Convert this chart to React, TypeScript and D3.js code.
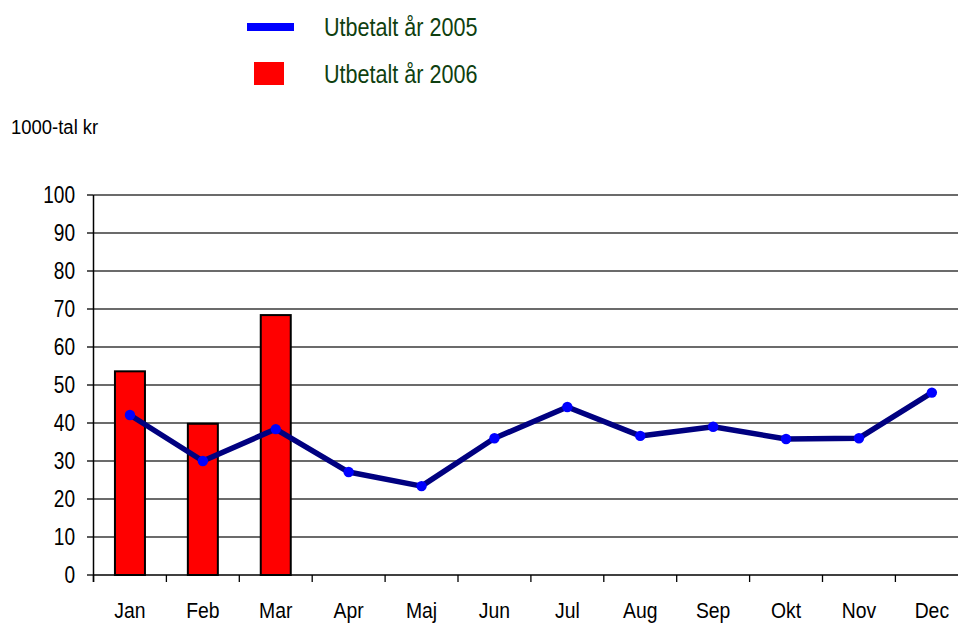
import React from "react";
import * as d3 from "d3";

const months = ["Jan", "Feb", "Mar", "Apr", "Maj", "Jun", "Jul", "Aug", "Sep", "Okt", "Nov", "Dec"];
const paid2005 = [42.1, 30.0, 38.4, 27.1, 23.4, 36.0, 44.2, 36.6, 39.0, 35.8, 36.0, 48.0];
const paid2006 = [53.6, 39.8, 68.4];
const yTicks = [0, 10, 20, 30, 40, 50, 60, 70, 80, 90, 100];
const seriesNames = ["Utbetalt år 2005", "Utbetalt år 2006"];
const yAxisTitle = "1000-tal kr";

const W = 958;
const H = 624;
const FONT = "'Liberation Sans', Arial, sans-serif";

function NText({ x, y, sx, anchor = "start", size, fill = "#000", children }: any) {
  return (
    <text
      transform={`translate(${x},${y}) scale(${sx},1)`}
      dy="0.35em"
      textAnchor={anchor}
      fontSize={size}
      fill={fill}
    >
      {children}
    </text>
  );
}

export default function App() {
  const left = 93.5;
  const bandW = 72.9;
  const x = d3.scaleBand<string>().domain(months).range([left, left + bandW * months.length]).paddingInner(0).paddingOuter(0);
  const y = d3.scaleLinear().domain([0, 100]).range([575, 195]);
  const barW = 30;
  const cx = (m: string) => (x(m) as number) + x.bandwidth() / 2;

  const line = d3
    .line<number>()
    .x((_, i) => cx(months[i]))
    .y((d) => y(d));

  return (
    <div style={{ position: "absolute", left: 0, top: 0 }}>
      <svg width={W} height={H} style={{ display: "block" }} fontFamily={FONT}>
        <rect width={W} height={H} fill="#fff" />
        {/* legend */}
        <line x1={247} x2={294} y1={27} y2={27} stroke="#0000ff" strokeWidth={8} />
        <NText x={324} y={27} sx={0.83} size={26} fill="#0f3f10">{seriesNames[0]}</NText>
        <rect x={254} y={62} width={30} height={23} fill="#ff0000" />
        <NText x={324} y={74} sx={0.83} size={26} fill="#0f3f10">{seriesNames[1]}</NText>

        <NText x={11} y={127} sx={0.88} size={21}>{yAxisTitle}</NText>

        {/* grid */}
        {yTicks.map((t) => (
          <g key={t}>
            {t > 0 && <line x1={left} x2={W} y1={y(t)} y2={y(t)} stroke="#3a3a3a" strokeWidth={1.3} />}
            <line x1={87} x2={left} y1={y(t)} y2={y(t)} stroke="#000" strokeWidth={1.3} />
            <NText x={75} y={y(t)} sx={0.83} anchor="end" size={23}>{t}</NText>
          </g>
        ))}

        {/* bars */}
        {paid2006.map((v, i) => (
          <rect
            key={i}
            x={cx(months[i]) - barW / 2}
            y={y(v)}
            width={barW}
            height={y(0) - y(v)}
            fill="#ff0000"
            stroke="#000"
            strokeWidth={2}
          />
        ))}

        {/* axes */}
        <line x1={left} x2={left} y1={y(100)} y2={y(0) + 7} stroke="#000" strokeWidth={1.5} />
        <line x1={left} x2={W} y1={y(0)} y2={y(0)} stroke="#000" strokeWidth={1.5} />
        {months.map((m) => (
          <line key={m} x1={x(m)} x2={x(m)} y1={y(0)} y2={y(0) + 7} stroke="#000" strokeWidth={1.3} />
        ))}
        {months.map((m) => (
          <NText key={m} x={cx(m)} y={610} sx={0.88} anchor="middle" size={22}>{m}</NText>
        ))}

        {/* line */}
        <path d={line(paid2005) || ""} fill="none" stroke="#000080" strokeWidth={5.5} strokeLinejoin="round" />
        {paid2005.map((v, i) => (
          <circle key={i} cx={cx(months[i])} cy={y(v)} r={5.2} fill="#0000ff" />
        ))}
      </svg>
    </div>
  );
}
